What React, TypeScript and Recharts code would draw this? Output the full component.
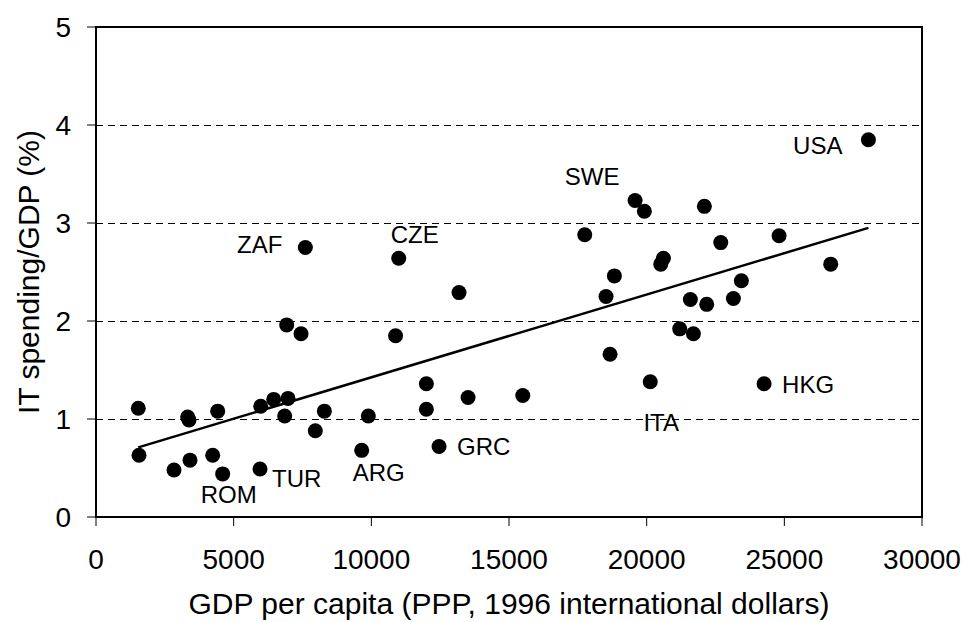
import React from 'react';
import { ScatterChart, Scatter, XAxis, YAxis, CartesianGrid, ReferenceArea, Label } from 'recharts';

// GDP per capita (PPP, 1996 intl $) and IT spending share of GDP (%)
const gdp = [
  1536, 1562, 2833, 3330, 3378, 3414, 4238, 4420, 4600, 5957,
  5982, 6454, 6974, 6853, 6926, 7447, 7966, 8294, 9650, 9891,
  10880, 13185, 11999, 11999, 13513, 15500, 12459, 18525, 18670, 20130,
  21200, 28054, 19579, 19917, 22096, 17751, 24809, 22691, 20608, 20512,
  26685, 18827, 23440, 21587, 22181, 23150, 21697, 24265, 7604, 10995,
];
const itShare = [
  1.11, 0.63, 0.48, 1.02, 0.99, 0.58, 0.63, 1.08, 0.44, 0.49,
  1.13, 1.2, 1.21, 1.03, 1.96, 1.87, 0.88, 1.08, 0.68, 1.03,
  1.85, 2.29, 1.36, 1.1, 1.22, 1.24, 0.72, 2.25, 1.66, 1.38,
  1.92, 3.85, 3.23, 3.12, 3.17, 2.88, 2.87, 2.8, 2.64, 2.58,
  2.58, 2.46, 2.41, 2.22, 2.17, 2.23, 1.87, 1.36, 2.75, 2.64,
];
const code = [
  '', '', '', '', '', '', '', '', 'ROM', 'TUR',
  '', '', '', '', '', '', '', '', 'ARG', '',
  '', '', '', '', '', '', 'GRC', '', '', 'ITA',
  '', 'USA', 'SWE', '', '', '', '', '', '', '',
  '', '', '', '', '', '', '', 'HKG', 'ZAF', 'CZE',
];

// linear trend, read at its two ends
const trendX = [1536, 28054];
const trendY = [0.71, 2.95];

const xTicks = [0, 5000, 10000, 15000, 20000, 25000, 30000];
const yTicks = [0, 1, 2, 3, 4, 5];

// where each country code sits relative to its dot
const labelPlace: Record<string, { dx: number; dy: number; anchor: 'start' | 'middle' | 'end' }> = {
  ROM: { dx: 6, dy: 29, anchor: 'middle' },
  TUR: { dx: 12, dy: 18, anchor: 'start' },
  ARG: { dx: 17, dy: 31, anchor: 'middle' },
  GRC: { dx: 18, dy: 9, anchor: 'start' },
  ITA: { dx: 11, dy: 49, anchor: 'middle' },
  HKG: { dx: 18, dy: 9, anchor: 'start' },
  USA: { dx: -26, dy: 14, anchor: 'end' },
  SWE: { dx: -43, dy: -15, anchor: 'middle' },
  ZAF: { dx: -23, dy: 5, anchor: 'end' },
  CZE: { dx: 16, dy: -15, anchor: 'middle' },
};

const points = gdp.map((g, i) => ({ x: g, y: itShare[i], code: code[i] }));
const trend = trendX.map((x, i) => ({ x, y: trendY[i] }));

const FONT = '"Liberation Sans", Arial, sans-serif';

const Dot = (props: any) => {
  const { cx, cy, payload } = props;
  const lp = payload.code ? labelPlace[payload.code] : null;
  return (
    <g>
      <circle cx={cx} cy={cy} r={7.5} fill="#000" />
      {lp && (
        <text x={cx + lp.dx} y={cy + lp.dy} textAnchor={lp.anchor} fontSize={24} fontFamily={FONT} fill="#000">
          {payload.code}
        </text>
      )}
    </g>
  );
};

export default function App() {
  return (
    <div style={{ position: 'absolute', left: 0, top: 0, width: 965, height: 622, overflow: 'hidden', background: '#fff' }}>
      <ScatterChart width={965} height={622} margin={{ top: 27, right: 43, bottom: 0, left: 0 }}>
        <CartesianGrid horizontal vertical={false} stroke="#000" strokeDasharray="7 5" shapeRendering="crispEdges" />
        <XAxis
          type="number"
          dataKey="x"
          domain={[0, 30000]}
          ticks={xTicks}
          height={105}
          tickSize={9}
          tickMargin={23}
          axisLine={{ stroke: '#000', strokeWidth: 2 }}
          tickLine={{ stroke: '#000' }}
          tick={{ fill: '#000', fontSize: 28, fontFamily: FONT }}
        >
          <Label
            value="GDP per capita (PPP, 1996 international dollars)"
            position="insideBottom"
            offset={8}
            fill="#000"
            fontSize={30}
            fontFamily={FONT}
          />
        </XAxis>
        <YAxis
          type="number"
          dataKey="y"
          domain={[0, 5]}
          ticks={yTicks}
          width={96}
          tickSize={9}
          tickMargin={16}
          axisLine={{ stroke: '#000', strokeWidth: 2 }}
          tickLine={{ stroke: '#000' }}
          tick={{ fill: '#000', fontSize: 28, fontFamily: FONT }}
        >
          <Label
            content={(p: any) => {
              const vb = p.viewBox;
              const cx = vb.x + 28;
              const cy = vb.y + vb.height / 2;
              return (
                <text x={cx} y={cy} transform={`rotate(-90 ${cx} ${cy})`} textAnchor="middle" dominantBaseline="central" fontSize={30} fontFamily={FONT} fill="#000">
                  IT spending/GDP (%)
                </text>
              );
            }}
          />
        </YAxis>
        <ReferenceArea x1={0} x2={30000} y1={0} y2={5} fill="none" stroke="#000" strokeWidth={2} fillOpacity={0} />
        <Scatter data={trend} line={{ stroke: '#000', strokeWidth: 2.5 }} shape={() => <g />} isAnimationActive={false} />
        <Scatter data={points} shape={Dot} isAnimationActive={false} />
      </ScatterChart>
    </div>
  );
}
